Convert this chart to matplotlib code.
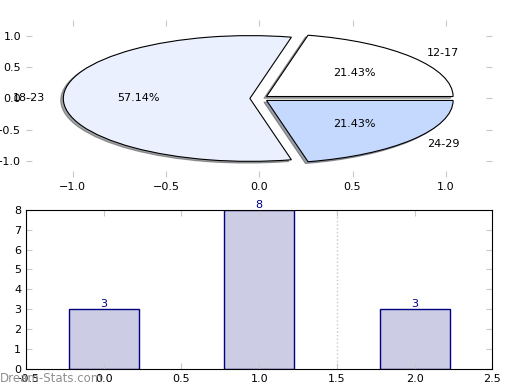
import numpy as np
import matplotlib
matplotlib.use("Agg")
import matplotlib.pyplot as plt

# age groups and counts
groups = ["12-17", "18-23", "24-29"]
counts = [3, 8, 3]
pie_colors = ["#ffffff", "#eaf0fe", "#c5d8fe"]
bar_x = [0, 1, 2]

plt.rcParams["font.size"] = 8
plt.rcParams["xtick.direction"] = "in"
plt.rcParams["ytick.direction"] = "in"

fig = plt.figure(figsize=(5.2, 3.9), dpi=100)

# --- pie ---
ax1 = fig.add_axes([0.05, 0.546, 0.897, 0.403])
ax1.pie(counts, labels=groups, colors=pie_colors, autopct="%1.2f%%",
        explode=[0.05] * len(counts),
        shadow={"ox": -0.01, "oy": -0.02},
        startangle=0,
        wedgeprops={"edgecolor": "black", "linewidth": 0.8},
        textprops={"fontsize": 8})
ax1.set_aspect("auto")
ax1.set_frame_on(False)
ax1.set_xlim(-1.25, 1.25)
ax1.set_ylim(-1.25, 1.25)
ax1.set_xticks([-1.0, -0.5, 0.0, 0.5, 1.0])
ax1.set_yticks([-1.0, -0.5, 0.0, 0.5, 1.0])
ax1.tick_params(which="both", color="#c8c8c8", length=4, labelsize=8,
                top=True, right=True)

# --- bars ---
ax2 = fig.add_axes([0.05, 0.054, 0.897, 0.408])
bars = ax2.bar(bar_x, counts, width=0.45, color=(0, 0, 0.5, 0.2),
               edgecolor="navy", linewidth=1.0)
for b, v in zip(bars, counts):
    ax2.text(b.get_x() + b.get_width() / 2, v, str(v), ha="center",
             va="bottom", color="navy", fontsize=8, clip_on=False)
ax2.axvline(1.5, color="#c8c8c8", linestyle=":", linewidth=1)
ax2.set_xlim(-0.5, 2.5)
ax2.set_ylim(0, 8)
ax2.set_xticks(np.arange(-0.5, 2.51, 0.5))
ax2.set_yticks(range(0, 9))
ax2.tick_params(which="both", color="#c8c8c8", length=4, labelsize=8,
                top=True, right=True)

fig.text(0.0, 0.012, "Dream-Stats.com", color="#909090", fontsize=8.5,
         ha="left", va="bottom")

fig.savefig("out.png", dpi=100)
